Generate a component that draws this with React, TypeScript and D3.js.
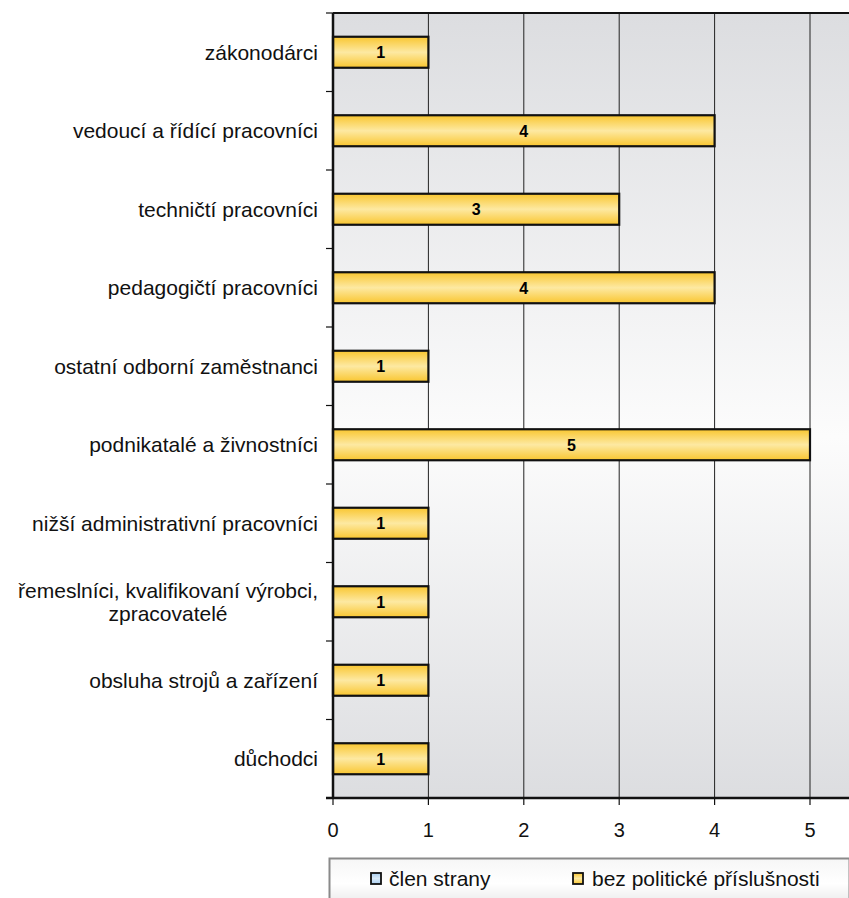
import React, { useEffect, useRef } from "react";
import * as d3 from "d3";

const categories = [
  "zákonodárci",
  "vedoucí a řídící pracovníci",
  "techničtí pracovníci",
  "pedagogičtí pracovníci",
  "ostatní odborní zaměstnanci",
  "podnikatalé a živnostníci",
  "nižší administrativní pracovníci",
  "řemeslníci, kvalifikovaní výrobci,\nzpracovatelé",
  "obsluha strojů a zařízení",
  "důchodci",
];
const clenStrany = [0, 0, 0, 0, 0, 0, 0, 0, 0, 0];
const bezPolitickePrislusnosti = [1, 4, 3, 4, 1, 5, 1, 1, 1, 1];
const xTicks = [0, 1, 2, 3, 4, 5];
const seriesNames = ["člen strany", "bez politické příslušnosti"];

const W = 849;
const H = 898;
const M = { left: 333, top: 13, right: 0, bottom: 100 };
const FONT = "'Liberation Sans', Arial, sans-serif";

export default function App() {
  const ref = useRef<SVGSVGElement | null>(null);

  useEffect(() => {
    const svg = d3.select(ref.current);
    svg.selectAll("*").remove();

    const plotBottom = 798;
    const x = d3.scaleLinear().domain([0, 5]).range([M.left, 810]);
    const plotRight = W;
    const y = d3
      .scaleBand<number>()
      .domain(d3.range(categories.length))
      .range([M.top, plotBottom])
      .paddingInner(0)
      .paddingOuter(0);

    const defs = svg.append("defs");
    const bg = defs
      .append("linearGradient")
      .attr("id", "bgGrad")
      .attr("x1", 0)
      .attr("y1", 0)
      .attr("x2", 0)
      .attr("y2", 1);
    bg.append("stop").attr("offset", "0%").attr("stop-color", "#dcdde0");
    bg.append("stop").attr("offset", "54%").attr("stop-color", "#fcfcfc");
    bg.append("stop").attr("offset", "100%").attr("stop-color", "#dcdde0");

    const barG = defs
      .append("linearGradient")
      .attr("id", "barGrad")
      .attr("x1", 0)
      .attr("y1", 0)
      .attr("x2", 0)
      .attr("y2", 1);
    barG.append("stop").attr("offset", "0%").attr("stop-color", "#f9c630");
    barG.append("stop").attr("offset", "50%").attr("stop-color", "#fde9a2");
    barG.append("stop").attr("offset", "100%").attr("stop-color", "#f9c630");

    const legG = defs
      .append("linearGradient")
      .attr("id", "legGrad")
      .attr("x1", 0)
      .attr("y1", 0)
      .attr("x2", 0)
      .attr("y2", 1);
    legG.append("stop").attr("offset", "0%").attr("stop-color", "#f6f6f6");
    legG.append("stop").attr("offset", "50%").attr("stop-color", "#ffffff");
    legG.append("stop").attr("offset", "100%").attr("stop-color", "#e6e6e6");

    const blueG = defs
      .append("linearGradient")
      .attr("id", "blueGrad")
      .attr("x1", 0)
      .attr("y1", 0)
      .attr("x2", 0)
      .attr("y2", 1);
    blueG.append("stop").attr("offset", "0%").attr("stop-color", "#a9cdef");
    blueG.append("stop").attr("offset", "50%").attr("stop-color", "#d9ebfa");
    blueG.append("stop").attr("offset", "100%").attr("stop-color", "#a9cdef");

    // plot background
    svg
      .append("rect")
      .attr("x", M.left)
      .attr("y", M.top)
      .attr("width", plotRight - M.left)
      .attr("height", plotBottom - M.top)
      .attr("fill", "url(#bgGrad)");

    // gridlines
    svg
      .append("g")
      .selectAll("line")
      .data(xTicks.filter((t) => t > 0))
      .join("line")
      .attr("x1", (d) => x(d))
      .attr("x2", (d) => x(d))
      .attr("y1", M.top)
      .attr("y2", plotBottom)
      .attr("stroke", "#222")
      .attr("stroke-width", 1);

    // top border
    svg
      .append("line")
      .attr("x1", M.left)
      .attr("x2", plotRight)
      .attr("y1", M.top)
      .attr("y2", M.top)
      .attr("stroke", "#111")
      .attr("stroke-width", 2);

    const barH = 31;
    // member series (zero values, not visible)
    svg
      .append("g")
      .selectAll("rect")
      .data(clenStrany.map((v, i) => ({ v, i })).filter((d) => d.v > 0))
      .join("rect")
      .attr("x", x(0))
      .attr("y", (d) => y(d.i)! + y.bandwidth() / 2 - barH / 2)
      .attr("width", (d) => x(d.v) - x(0))
      .attr("height", barH)
      .attr("fill", "url(#blueGrad)")
      .attr("stroke", "#111")
      .attr("stroke-width", 2);

    const bars = svg
      .append("g")
      .selectAll("g")
      .data(bezPolitickePrislusnosti.map((v, i) => ({ v, i })))
      .join("g");
    bars
      .append("rect")
      .attr("x", x(0))
      .attr("y", (d) => y(d.i)! + y.bandwidth() / 2 - barH / 2)
      .attr("width", (d) => x(d.v) - x(0))
      .attr("height", barH)
      .attr("fill", "url(#barGrad)")
      .attr("stroke", "#111")
      .attr("stroke-width", 2.2);
    bars
      .append("text")
      .attr("x", (d) => (x(0) + x(d.v)) / 2)
      .attr("y", (d) => y(d.i)! + y.bandwidth() / 2)
      .attr("dy", "0.36em")
      .attr("text-anchor", "middle")
      .attr("font-family", FONT)
      .attr("font-weight", "bold")
      .attr("font-size", 16)
      .attr("fill", "#000")
      .text((d) => String(d.v));

    // left axis
    svg
      .append("line")
      .attr("x1", M.left)
      .attr("x2", M.left)
      .attr("y1", M.top)
      .attr("y2", plotBottom)
      .attr("stroke", "#111")
      .attr("stroke-width", 2.5);
    const yTickPos = d3.range(categories.length + 1).map((i) => M.top + i * y.step());
    svg
      .append("g")
      .selectAll("line")
      .data(yTickPos)
      .join("line")
      .attr("x1", M.left - 7)
      .attr("x2", M.left)
      .attr("y1", (d) => d)
      .attr("y2", (d) => d)
      .attr("stroke", "#111")
      .attr("stroke-width", 1.2);

    // category labels
    const labG = svg.append("g");
    const LFS = 21;
    categories.forEach((c, i) => {
      const lines = c.split("\n");
      const cy = y(i)! + y.bandwidth() / 2;
      const lh = 23;
      const t = labG
        .append("text")
        .attr("font-family", FONT)
        .attr("font-size", LFS)
        .attr("fill", "#111");
      lines.forEach((ln, k) => {
        t.append("tspan")
          .attr("y", cy + (k - (lines.length - 1) / 2) * lh)
          .attr("dy", "0.35em")
          .text(ln);
      });
      if (lines.length === 1) {
        t.attr("text-anchor", "end");
        t.selectAll("tspan").attr("x", 318);
      } else {
        const tmp = labG
          .append("text")
          .attr("font-family", FONT)
          .attr("font-size", LFS);
        let maxW = 0;
        lines.forEach((ln) => {
          tmp.text(ln);
          const w = (tmp.node() as SVGTextElement).getComputedTextLength();
          if (w > maxW) maxW = w;
        });
        tmp.remove();
        t.attr("text-anchor", "middle");
        t.selectAll("tspan").attr("x", 318 - maxW / 2);
      }
    });

    // bottom axis
    svg
      .append("line")
      .attr("x1", M.left - 7)
      .attr("x2", plotRight)
      .attr("y1", plotBottom)
      .attr("y2", plotBottom)
      .attr("stroke", "#111")
      .attr("stroke-width", 2.5);
    const xa = svg.append("g");
    xa.selectAll("line")
      .data(xTicks)
      .join("line")
      .attr("x1", (d) => x(d))
      .attr("x2", (d) => x(d))
      .attr("y1", plotBottom)
      .attr("y2", plotBottom + 7)
      .attr("stroke", "#111")
      .attr("stroke-width", 1.2);
    xa.selectAll("text")
      .data(xTicks)
      .join("text")
      .attr("x", (d) => x(d))
      .attr("y", 830)
      .attr("dy", "0.35em")
      .attr("text-anchor", "middle")
      .attr("font-family", FONT)
      .attr("font-size", 20)
      .attr("fill", "#111")
      .text((d) => String(d));

    // legend
    svg
      .append("rect")
      .attr("x", 329.5)
      .attr("y", 858.5)
      .attr("width", W - 329)
      .attr("height", 50)
      .attr("fill", "url(#legGrad)")
      .attr("stroke", "#8a8a8a")
      .attr("stroke-width", 2);
    const legItems = [
      { name: seriesNames[0], fill: "url(#blueGrad)", sx: 371, tx: 389 },
      { name: seriesNames[1], fill: "url(#barGrad)", sx: 573, tx: 592 },
    ];
    const li = svg.append("g").selectAll("g").data(legItems).join("g");
    li.append("rect")
      .attr("x", (d) => d.sx)
      .attr("y", 873)
      .attr("width", 10)
      .attr("height", 11)
      .attr("fill", (d) => d.fill)
      .attr("stroke", "#111")
      .attr("stroke-width", 1.8);
    li.append("text")
      .attr("x", (d) => d.tx)
      .attr("y", 879)
      .attr("dy", "0.35em")
      .attr("font-family", FONT)
      .attr("font-size", 21)
      .attr("fill", "#111")
      .text((d) => d.name);
  }, []);

  return (
    <svg
      ref={ref}
      width={W}
      height={H}
      style={{ position: "absolute", left: 0, top: 0, display: "block" }}
    />
  );
}
